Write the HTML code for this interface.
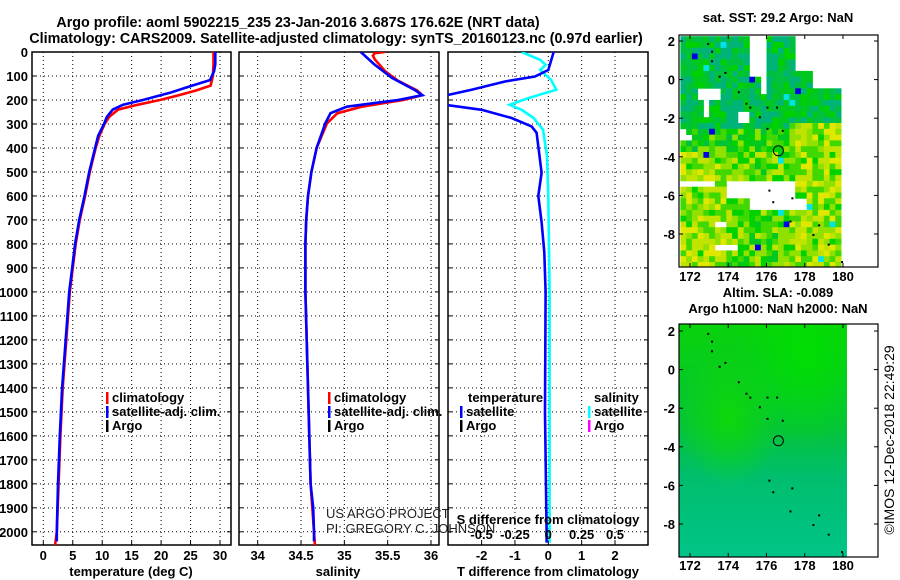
<!DOCTYPE html>
<html><head><meta charset="utf-8">
<style>
html,body{margin:0;padding:0;background:#fff;}
svg{display:block;font-family:"Liberation Sans",sans-serif;}
.b{font-weight:bold;font-size:13px;}
</style></head>
<body>
<svg id="c" width="900" height="580" viewBox="0 0 900 580" xmlns="http://www.w3.org/2000/svg">
<defs>
<clipPath id="cp1"><rect x="32" y="52" width="200" height="493"/></clipPath>
<clipPath id="cp2"><rect x="239" y="52" width="200" height="493"/></clipPath>
<clipPath id="cp3"><rect x="448" y="52" width="200" height="493"/></clipPath>
<linearGradient id="slaV" x1="0" y1="0" x2="0" y2="1">
<stop offset="0" stop-color="#08d20a"/><stop offset="0.45" stop-color="#05c43a"/><stop offset="0.65" stop-color="#00be6c"/><stop offset="1" stop-color="#00c488"/>
</linearGradient>
<radialGradient id="slaR1" cx="0.75" cy="0.12" r="0.4"><stop offset="0" stop-color="#00e000" stop-opacity="0.9"/><stop offset="1" stop-color="#00e000" stop-opacity="0"/></radialGradient>
<radialGradient id="slaR2" cx="0.3" cy="0.4" r="0.3"><stop offset="0" stop-color="#10dc00" stop-opacity="0.8"/><stop offset="1" stop-color="#10dc00" stop-opacity="0"/></radialGradient>
</defs>
<g>
<text x="298" y="27" text-anchor="middle" font-weight="bold" font-size="14.3">Argo profile: aoml 5902215_235 23-Jan-2016 3.687S 176.62E (NRT data)</text>
<text x="336" y="43" text-anchor="middle" font-weight="bold" font-size="14.3">Climatology: CARS2009. Satellite-adjusted climatology: synTS_20160123.nc (0.97d earlier)</text>
</g>
<g id="g1"></g>
<g id="g2"></g>
<g id="g3"></g>
<g id="m1"></g>
<g id="m2"></g>
<text x="0" y="0" transform="translate(894,440) rotate(-90)" text-anchor="middle" font-size="14">©IMOS 12-Dec-2018 22:49:29</text>
</svg>
<script>
// ---- data ----
const tempClimDepth=[0,50,100,140,160,180,200,220,240,270,300,350,400,500,600,700,800,900,1000,1200,1400,1600,1800,2000,2055];
const tempClim=[28.9,28.9,28.8,28.4,26,23,19.8,16,12.7,11.2,10.4,9.5,8.9,7.9,7.1,6.2,5.5,5.0,4.5,3.9,3.3,2.9,2.6,2.3,2.0];
const tempSatDepth=[0,50,80,100,117,131,150,170,200,220,240,270,300,350,400,500,600,700,800,900,1000,1200,1400,1600,1800,2000,2040];
const tempSat=[29.2,29.2,29.0,28.6,28.3,26.5,24,21.5,16.9,13.5,11.8,10.8,10.3,9.3,8.8,7.8,7.0,6.1,5.4,4.9,4.4,3.8,3.2,2.8,2.5,2.3,2.3];
const salClimDepth=[0,5,15,30,80,120,160,180,200,228,255,297,400,500,600,700,800,1000,1400,1800,2000,2055];
const salClim=[35.47,35.35,35.33,35.35,35.47,35.62,35.84,35.9,35.68,35.2,34.92,34.8,34.68,34.62,34.58,34.56,34.55,34.55,34.58,34.61,34.65,34.66];
const salSatDepth=[0,53,108,160,180,200,228,255,297,400,500,600,700,800,1000,1400,1800,1900,2000,2040];
const salSat=[35.19,35.35,35.55,35.82,35.9,35.62,35.03,34.84,34.78,34.68,34.62,34.58,34.56,34.55,34.55,34.58,34.61,34.64,34.65,34.65];
const tDiffDepth=[0,5,75,102,123,157,185,200,220,241,275,310,337,503,600,710,835,1000,1500,2000,2045];
const tDiff=[0.15,0.15,0,-0.4,-1.3,-2.3,-3.2,-3.6,-3.1,-2.0,-1.1,-0.5,-0.35,-0.2,-0.3,-0.2,-0.12,-0.08,-0.1,-0.05,-0.05];
const sDiffDepth=[0,33,54,75,116,157,192,220,241,275,324,434,600,1000,1500,2045];
const sDiff=[-0.2,-0.06,-0.02,-0.06,0.02,0.06,-0.15,-0.29,-0.2,-0.11,-0.04,-0.01,0,0.01,0.01,0.01];
const depthTicks=[0,100,200,300,400,500,600,700,800,900,1000,1100,1200,1300,1400,1500,1600,1700,1800,1900,2000];
const tempTicks=[0,5,10,15,20,25,30];
const salTicks=[34,34.5,35,35.5,36];
const tDiffTicks=[-2,-1,0,1,2];
const sDiffTicks=[-0.5,-0.25,0,0.25,0.5];
const sDiffTickLabels=["-0.5","-0.25","0","0.25","0.5"];
const lonTicks=[172,174,176,178,180];
const latTicks=[2,0,-2,-4,-6,-8];
const argoLon=176.62, argoLat=-3.687;

const NS="http://www.w3.org/2000/svg";
function mk(p,tag,attrs,txt){const e=document.createElementNS(NS,tag);for(const k in attrs)e.setAttribute(k,attrs[k]);if(txt!==undefined)e.textContent=txt;p.appendChild(e);return e;}
const TOP=52,BOT=545,DMAX=2055;
const yD=d=>TOP+(BOT-TOP)*d/DMAX;
function linX(x0,x1,v0,v1){return v=>x0+(x1-x0)*(v-v0)/(v1-v0);}

function frame(g,x0,x1,xs,xticks,withDepthLabels){
  xticks.forEach(t=>{const l=mk(g,'line',{x1:xs(t),x2:xs(t),y1:TOP,y2:BOT,stroke:'#000','stroke-width':1,'stroke-dasharray':'1,3'});
    
    });
  depthTicks.forEach(d=>{const l=mk(g,'line',{x1:x0,x2:x1,y1:yD(d),y2:yD(d),stroke:'#000','stroke-width':1,'stroke-dasharray':'1,3'});
    
    
    mk(g,'line',{x1:x0,x2:x0+4,y1:yD(d),y2:yD(d),stroke:'#000'});
    mk(g,'line',{x1:x1-4,x2:x1,y1:yD(d),y2:yD(d),stroke:'#000'});
    if(withDepthLabels){const t=mk(g,'text',{x:28,y:yD(d)+5,'text-anchor':'end',class:'b'},String(d));
      
      }
  });
  const r=mk(g,'rect',{x:x0,y:TOP,width:x1-x0,height:BOT-TOP,fill:'none',stroke:'#000','stroke-width':1.5});
  
  
}
function line(g,xs,vals,depths,color,clip,name){
  const pts=vals.map((v,i)=>xs(v).toFixed(1)+','+yD(depths[i]).toFixed(1)).join(' ');
  const p=mk(g,'polyline',{points:pts,fill:'none',stroke:color,'stroke-width':2.6,'clip-path':'url(#'+clip+')'});
  
  
}
function xlabels(g,xs,ticks,labels,y){
  ticks.forEach((t,i)=>{mk(g,'line',{x1:xs(t),x2:xs(t),y1:BOT,y2:BOT-4,stroke:'#000'});
    const e=mk(g,'text',{x:xs(t),y:y,'text-anchor':'middle',class:'b'},labels?labels[i]:String(t));
    
    });
}
function legendItem(g,x,y,color,label){
  mk(g,'rect',{x:x,y:y-10,width:2.5,height:12,fill:color});
  const t=mk(g,'text',{x:x+6,y:y,class:'b'},label);
  
  
}

// Panel 1
const g1=document.getElementById('g1');
const xT=linX(43.3,220,0,30);
frame(g1,32,231,xT,tempTicks,true);
line(g1,xT,tempClim,tempClimDepth,'#ff0000','cp1','clim-temperature-line');
line(g1,xT,tempSat,tempSatDepth,'#0000ff','cp1','sat-temperature-line');
xlabels(g1,xT,tempTicks,null,560);
mk(g1,'text',{x:131,y:576,'text-anchor':'middle',class:'b'},'temperature (deg C)');
legendItem(g1,106,402,'#ff0000','climatology');
legendItem(g1,106,416,'#0000ff','satellite-adj. clim.');
legendItem(g1,106,430,'#000','Argo');

// Panel 2
const g2=document.getElementById('g2');
const xS=linX(257.7,431,34,36);
frame(g2,239,439,xS,salTicks,false);
line(g2,xS,salClim,salClimDepth,'#ff0000','cp2','clim-salinity-line');
line(g2,xS,salSat,salSatDepth,'#0000ff','cp2','sat-salinity-line');
xlabels(g2,xS,salTicks,null,560);
mk(g2,'text',{x:338,y:576,'text-anchor':'middle',class:'b'},'salinity');
legendItem(g2,328,402,'#ff0000','climatology');
legendItem(g2,328,416,'#0000ff','satellite-adj. clim.');
legendItem(g2,328,430,'#000','Argo');
mk(g2,'text',{x:326,y:518,'font-size':13,fill:'#222'},'US ARGO PROJECT');
mk(g2,'text',{x:326,y:533,'font-size':13,fill:'#222'},'PI: GREGORY C. JOHNSON');

// Panel 3
const g3=document.getElementById('g3');
const xTd=linX(548.3,615,0,2);
const xSd=linX(548.3,615,0,0.5);
frame(g3,448,648,xTd,tDiffTicks,false);
line(g3,xSd,sDiff,sDiffDepth,'#00ffff','cp3','salinity-difference-line');
line(g3,xTd,tDiff,tDiffDepth,'#0000ff','cp3','temperature-difference-line');
xlabels(g3,xTd,tDiffTicks,null,560);
sDiffTicks.forEach((t,i)=>{const e=mk(g3,'text',{x:xSd(t),y:539,'text-anchor':'middle',class:'b'},sDiffTickLabels[i]);
  
  });
mk(g3,'text',{x:548,y:524,'text-anchor':'middle',class:'b'},'S difference from climatology');
mk(g3,'text',{x:548,y:576,'text-anchor':'middle',class:'b'},'T difference from climatology');
mk(g3,'text',{x:468,y:402,class:'b'},'temperature');
mk(g3,'text',{x:594,y:402,class:'b'},'salinity');
legendItem(g3,460,416,'#0000ff','satellite');
legendItem(g3,460,430,'#000','Argo');
legendItem(g3,588,416,'#00ffff','satellite');
legendItem(g3,588,430,'#ff00ff','Argo');

// Maps
const MX0=679,MX1=878;
const lonX=linX(690,843,172,180);
function mapFrame(g,y0,y1,latY,labelY){
  latTicks.forEach(t=>{mk(g,'line',{x1:MX0,x2:MX0+4,y1:latY(t),y2:latY(t),stroke:'#000'});
    mk(g,'line',{x1:MX1-4,x2:MX1,y1:latY(t),y2:latY(t),stroke:'#000'});
    const e=mk(g,'text',{x:675,y:latY(t)+5,'text-anchor':'end',class:'b'},String(t));
    
    });
  lonTicks.forEach(t=>{mk(g,'line',{x1:lonX(t),x2:lonX(t),y1:y1,y2:y1-4,stroke:'#000'});
    mk(g,'line',{x1:lonX(t),x2:lonX(t),y1:y0,y2:y0+4,stroke:'#000'});
    const e=mk(g,'text',{x:lonX(t),y:labelY,'text-anchor':'middle',class:'b'},String(t));
    
    });
  const r=mk(g,'rect',{x:MX0,y:y0,width:MX1-MX0,height:y1-y0,fill:'none',stroke:'#000','stroke-width':1.2});
  
  
}
function islands(g,latY){
  const chain=[[172.9,1.9],[173.1,1.5],[173.1,1.0],[173.5,0.2],[173.8,0.4],[174.5,-0.6],[174.9,-1.2],[175.1,-1.4],[175.6,-1.9],[176.0,-1.4],[176.5,-1.4],[176.0,-2.5],[176.8,-2.6],[176.1,-5.7],[176.3,-6.3],[177.3,-6.1],[177.2,-7.3],[178.7,-7.5],[178.4,-8.0],[179.2,-8.5],[179.9,-9.4]];
  chain.forEach(c=>mk(g,'rect',{x:lonX(c[0]),y:latY(c[1]),width:2,height:2,fill:'#000'}));
}
// top SST map (image texture)
const m1=document.getElementById('m1');
const latY1=linX(41,234,2,-8);
mk(m1,'text',{x:778,y:22,'text-anchor':'middle',class:'b'},'sat. SST: 29.2 Argo: NaN');
function h(i,j){let n=(i*374761393+j*668265263)|0;n=(n^(n>>>13))*1274126177|0;n=n^(n>>>16);return ((n>>>0)%10000)/10000;}
const holes=[[175.1,175.9,2.3,0.0],[175.6,175.9,0,-0.6],[177.6,180.3,2.3,0.5],[178.3,180.3,0.5,-0.3],[172.5,173.5,-0.5,-1.1],[172.7,173.1,-1.1,-2.0],[174.6,175.1,-1.6,-2.3],[171.5,172.1,-2.8,-3.2],[171.5,173.2,-5.2,-5.6],[173.8,177.6,-5.3,-6.1],[175.0,177.2,-6.1,-6.6],[177.2,178.0,-6.2,-6.6],[173.4,173.9,-7.2,-7.7],[173.3,174.6,-8.6,-8.8],[180.0,180.3,-0.3,-9.8],[171.5,171.7,-2.5,-3.0]];
const hcols=['#00b478','#00c040','#00c81e','#00d200','#40d800','#90e000','#c0e400','#e0e800'];
for(let i=0;i<30;i++){for(let j=0;j<40;j++){
  const lon=171.5+i*0.3, lat=2.25-j*0.3;
  const lc=lon+0.15, la=lat-0.15;
  if(lc>180.3) continue;
  if(holes.some(b=>lc>=b[0]&&lc<=b[1]&&la<=b[2]&&la>=b[3])) continue;
  let w=0.2;
  if(la<-2.6) w=0.45;
  if(la<-3.8) w=0.6;
  if(la<-2.2 && lc>177.2) w=0.72;
  if(la<-3.6 && lc<173.8) w=0.72;
  if(la<-4.5 && lc>=173.8 && lc<177.2) w=0.55;
  w+= (h(i,j)-0.5)*0.5;
  let idx=Math.max(0,Math.min(7,Math.floor(w*8)));
  let col=hcols[idx];
  const r=h(j+101,i+57);
  if(r>0.996) col='#0000e6'; else if(r>0.99) col='#00e6e6';
  mk(m1,'rect',{x:lonX(lon).toFixed(1),y:latY1(lat).toFixed(1),width:6.2,height:6.2,fill:col});
}}
islands(m1,latY1);
mk(m1,'circle',{cx:lonX(argoLon),cy:latY1(argoLat),r:5,fill:'none',stroke:'#000','stroke-width':1});
mk(m1,'rect',{x:MX0,y:25,width:MX1-MX0,height:10,fill:'#fff'});
mk(m1,'rect',{x:MX0,y:267,width:MX1-MX0,height:5,fill:'#fff'});
mapFrame(m1,35,267,latY1,281);

// bottom SLA map
const m2=document.getElementById('m2');
const latY2=linX(331,524,2,-8);
mk(m2,'text',{x:778,y:297,'text-anchor':'middle',class:'b'},'Altim. SLA: -0.089');
mk(m2,'text',{x:778,y:313,'text-anchor':'middle',class:'b'},'Argo h1000: NaN h2000: NaN');
mk(m2,'rect',{x:MX0,y:324,width:847-MX0,height:233,fill:'url(#slaV)'});
mk(m2,'rect',{x:MX0,y:324,width:847-MX0,height:233,fill:'url(#slaR1)'});
mk(m2,'rect',{x:MX0,y:324,width:847-MX0,height:233,fill:'url(#slaR2)'});
islands(m2,latY2);
mk(m2,'circle',{cx:lonX(argoLon),cy:latY2(argoLat),r:5,fill:'none',stroke:'#000','stroke-width':1});
mapFrame(m2,324,557,latY2,570);
</script>
</body></html>
